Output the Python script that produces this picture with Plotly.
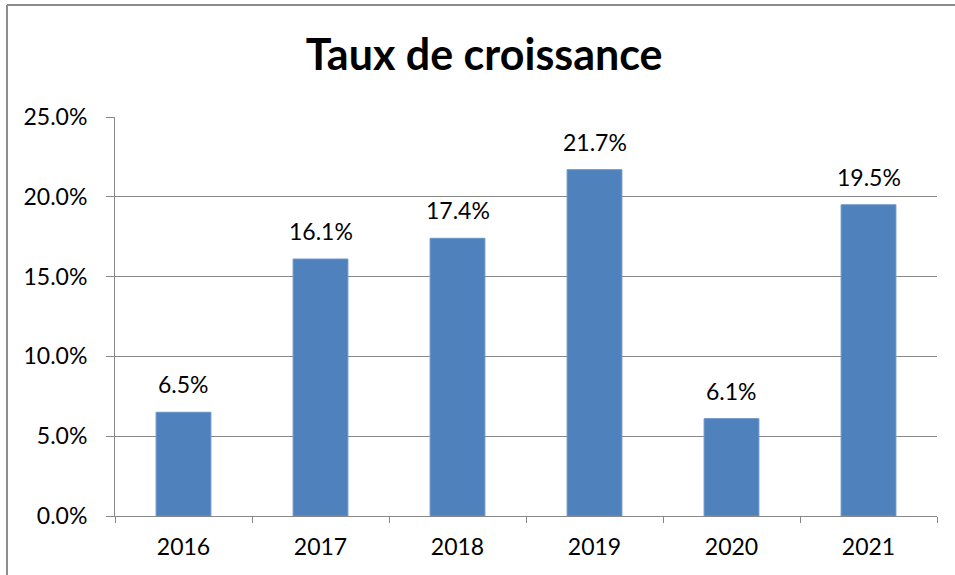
import plotly.graph_objects as go

years = ["2016", "2017", "2018", "2019", "2020", "2021"]
growth = [0.065, 0.161, 0.174, 0.217, 0.061, 0.195]
labels = ["6.5%", "16.1%", "17.4%", "21.7%", "6.1%", "19.5%"]
title_text = "Taux de croissance"

FONT = "Lato, Carlito, Calibri, sans-serif"
GRID = "#888888"

fig = go.Figure(
    go.Bar(
        x=years,
        y=growth,
        marker=dict(color="#4F81BD", line=dict(color="#6a95c9", width=1)),
        cliponaxis=False,
        hoverinfo="x+y",
    )
)

# category axis: annotation x given as the category index
annotations = [
    dict(x=i, y=v, text=t, xref="x", yref="y", showarrow=False,
         yanchor="bottom", xanchor="center", yshift=12,
         font=dict(size=23, family=FONT, color="#000000"))
    for i, (v, t) in enumerate(zip(growth, labels))
]

fig.update_layout(
    width=955,
    height=575,
    margin=dict(l=115, r=18, t=117, b=59, autoexpand=False),
    paper_bgcolor="white",
    plot_bgcolor="white",
    bargap=0.6,
    showlegend=False,
    font=dict(family=FONT, size=23, color="#000000"),
    title=dict(
        text="<b>" + title_text + "</b>",
        x=0.507,
        xanchor="center",
        y=0.905,
        yanchor="middle",
        font=dict(size=43, family=FONT, color="#000000"),
    ),
    annotations=annotations,
    shapes=[
        dict(type="line", xref="paper", yref="paper", x0=-0.1314, x1=-0.1314,
             y0=1.2807, y1=-0.2, line=dict(color="#8c8c8c", width=2)),
        dict(type="line", xref="paper", yref="paper", x0=-0.1314, x1=1.1,
             y0=1.2807, y1=1.2807, line=dict(color="#8c8c8c", width=2)),
    ],
)

fig.update_yaxes(
    range=[0, 0.25],
    dtick=0.05,
    tickformat=".1%",
    showgrid=True,
    gridcolor=GRID,
    gridwidth=1,
    showline=True,
    linecolor=GRID,
    linewidth=1,
    ticks="outside",
    ticklen=8,
    tickcolor=GRID,
    ticklabelstandoff=14,
    tickfont=dict(size=23, family=FONT),
    zeroline=False,
    automargin=False,
)
fig.update_xaxes(
    type="category",
    categoryorder="array",
    categoryarray=years,
    range=[-0.5, len(years) - 0.5],
    showline=True,
    linecolor=GRID,
    linewidth=1,
    ticks="outside",
    tickson="boundaries",
    ticklen=6,
    tickcolor=GRID,
    ticklabelstandoff=10,
    tickangle=0,
    tickfont=dict(size=23, family=FONT),
    showgrid=False,
    automargin=False,
)

fig.write_html(
    "out.html",
    config={"displayModeBar": False},
    post_script="document.body.style.margin='0';",
)
